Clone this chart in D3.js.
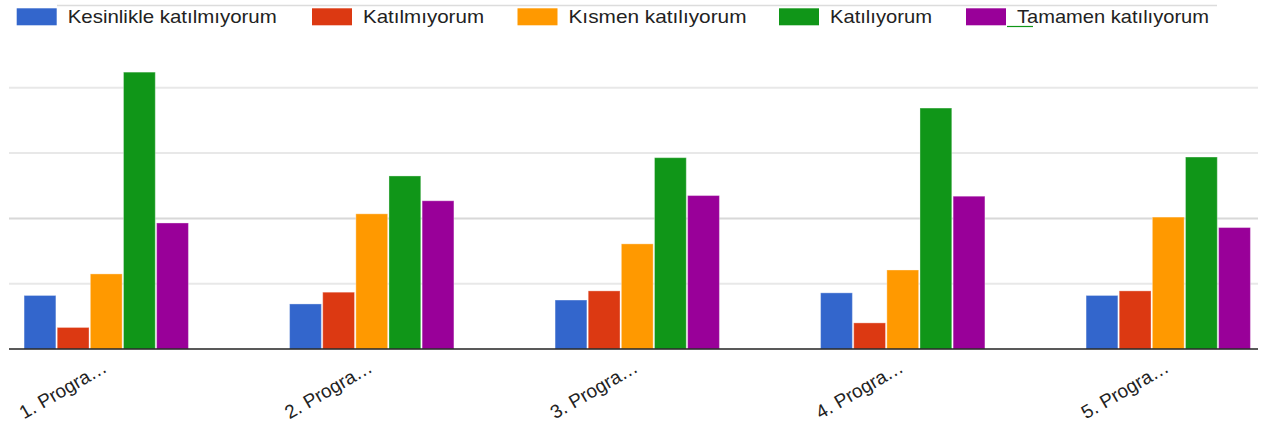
<!DOCTYPE html>
<html>
    <head>
        <meta charset="utf-8">
        <title>Grouped bars</title>
        <script src="https://d3js.org/d3.v7.min.js"></script>
        <style>
            html, body {
                margin: 0;
                padding: 0;
                background: #FFF;
            }
            svg {
                display: block;
                font-family: "Liberation Sans", Arial, sans-serif;
            }
            .legend text {
                font-size: 19px;
                fill: #222;
            }
            .xlabel {
                font-size: 19px;
                fill: #222;
                text-anchor: end;
            }
        </style>
    </head>
    <body>
        <svg id="chart" width="1268" height="430"></svg>
        <script>
            const categories = ['1. Progra…', '2. Progra…', '3. Progra…', '4. Progra…', '5. Progra…'];
            const seriesNames = ['Kesinlikle katılmıyorum', 'Katılmıyorum', 'Kısmen katılıyorum', 'Katılıyorum', 'Tamamen katılıyorum'];
            const colors = ['#3366CC', '#DC3912', '#FF9900', '#109618', '#990099'];
            // one array per series, one value per category
            const kesinlikleKatilmiyorum = [8.2, 6.9, 7.5, 8.6, 8.2];
            const katilmiyorum = [3.3, 8.7, 8.9, 4.0, 8.9];
            const kismenKatiliyorum = [11.5, 20.7, 16.1, 12.1, 20.2];
            const katiliyorum = [42.4, 26.5, 29.3, 36.9, 29.4];
            const tamamenKatiliyorum = [19.3, 22.7, 23.5, 23.4, 18.6];
            const gridValues = [10, 20, 30, 40];
            const legendWidths = [209, 121, 178, 102, 192];

            const series = [kesinlikleKatilmiyorum, katilmiyorum, kismenKatiliyorum, katiliyorum, tamamenKatiliyorum];

            const svg = d3.select('#chart');
            const plotLeft = 9;
            const plotRight = 1258;
            const baseY = 349;

            const x0 = d3.scaleBand()
                .domain(categories)
                .range([-26.5, 1301])
                .paddingInner(0.381)
                .paddingOuter(0.1905);
            const x1 = d3.scaleBand()
                .domain(d3.range(series.length))
                .range([0, x0.bandwidth()])
                .paddingInner(0.04);
            const y = d3.scaleLinear()
                .domain([0, 40])
                .range([baseY, baseY - 261.2]);

            // top grey rule behind the legend
            svg.append('line')
                .attr('x1', 57).attr('x2', 1217)
                .attr('y1', 5.5).attr('y2', 5.5)
                .attr('stroke', '#dcdcdc')
                .attr('stroke-width', 1.5);

            // gridlines
            svg.append('g')
                .selectAll('line')
                .data(gridValues)
                .join('line')
                .attr('x1', plotLeft)
                .attr('x2', plotRight)
                .attr('y1', d => y(d))
                .attr('y2', d => y(d))
                .attr('stroke', d => d === 20 ? '#d8d8d8' : '#e8e8e8')
                .attr('stroke-width', 2);

            // bars
            const groups = svg.append('g')
                .selectAll('g')
                .data(categories)
                .join('g')
                .attr('transform', d => `translate(${x0(d)} 0)`);
            groups.selectAll('rect')
                .data((d, ci) => series.map((s, si) => ({si, v: s[ci]})))
                .join('rect')
                .attr('x', d => x1(d.si))
                .attr('y', d => y(d.v))
                .attr('width', x1.bandwidth())
                .attr('height', d => baseY - y(d.v))
                .attr('fill', d => colors[d.si])
                .attr('stroke', 'rgba(255,255,255,0.35)')
                .attr('stroke-width', 1);

            // baseline
            svg.append('line')
                .attr('x1', plotLeft).attr('x2', plotRight)
                .attr('y1', baseY).attr('y2', baseY)
                .attr('stroke', '#222')
                .attr('stroke-width', 1.5);

            // category labels
            svg.append('g')
                .selectAll('text')
                .data(categories)
                .join('text')
                .attr('class', 'xlabel')
                .attr('transform', d => `translate(${x0(d) + x0.bandwidth() / 2 + 2} ${baseY + 22}) rotate(-30)`)
                .text(d => d);

            // legend
            const swatchX = [16.7, 312, 517.5, 779, 966];
            const legend = svg.append('g')
                .attr('class', 'legend')
                .selectAll('g')
                .data(seriesNames)
                .join('g')
                .attr('transform', (d, i) => `translate(${swatchX[i]} 0)`);
            legend.append('rect')
                .attr('y', 8.3)
                .attr('width', 40)
                .attr('height', 17)
                .attr('fill', (d, i) => colors[i]);
            legend.append('text')
                .attr('x', 51)
                .attr('y', 23.3)
                .attr('textLength', (d, i) => legendWidths[i])
                .attr('lengthAdjust', 'spacingAndGlyphs')
                .text(d => d);

            // small green mark under the last legend entry
            svg.append('line')
                .attr('x1', 1007).attr('x2', 1033)
                .attr('y1', 26.5).attr('y2', 26.5)
                .attr('stroke', '#109618')
                .attr('stroke-width', 1.2);
        </script>
    </body>
</html>
